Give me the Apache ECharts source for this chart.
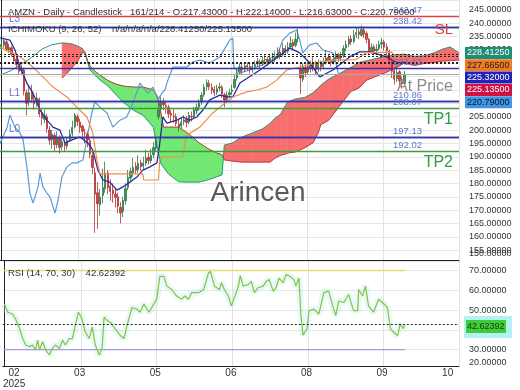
<!DOCTYPE html>
<html><head><meta charset="utf-8">
<script src="https://cdn.jsdelivr.net/npm/echarts@6/dist/echarts.min.js"></script>
<style>html,body{margin:0;padding:0;background:#fff}#c{width:520px;height:390px}</style>
</head><body><div id="c"></div>
<script>
const barCount = 181;
const xTickIdx = [4, 30, 60, 90, 120, 150, 176];
const xTickText = ['02\n2025', '03', '05', '06', '08', '09', '10'];
const xGridIdx = [31, 61, 91, 121, 151];

const candleOpen = [230.5,231.8,233.0,230.0,230.8,228.0,226.5,224.0,222.2,222.5,
214.0,210.5,214.5,211.0,210.0,211.5,206.5,204.0,205.0,200.0,
196.5,198.0,194.5,197.2,193.8,195.0,194.0,196.5,198.8,201.2,
205.0,203.0,201.5,199.0,198.5,196.0,190.5,184.0,176.5,172.0,
175.5,178.0,184.0,179.0,177.5,176.0,175.0,171.0,169.5,173.5,
178.5,182.0,184.0,186.5,185.2,187.8,186.5,187.6,189.8,188.5,
190.8,193.2,205.0,207.8,210.8,209.2,208.5,206.2,205.2,205.0,
202.2,201.5,203.2,204.0,203.0,205.2,205.0,207.2,208.6,210.5,
213.2,216.2,217.5,216.0,215.2,214.2,215.8,216.0,213.2,211.5,
213.2,214.5,216.0,219.5,221.8,223.5,222.8,224.2,223.8,222.5,
223.8,224.8,225.5,225.0,226.2,226.5,225.8,227.2,227.0,227.8,
229.2,228.2,230.6,229.5,231.2,232.8,231.8,234.2,223.0,219.0,
223.5,221.8,224.2,223.2,225.2,222.8,224.8,223.8,225.2,227.2,
226.2,225.5,226.8,228.2,227.0,227.8,230.8,232.2,234.2,233.2,
235.8,236.8,235.5,237.5,236.2,234.0,229.2,231.2,229.8,230.5,
232.2,233.0,231.2,229.5,225.5,222.2,219.2,221.8,218.2,217.43];
const candleClose = [232.0,233.5,230.2,231.0,228.4,226.0,224.5,222.0,223.2,214.5,
210.0,214.0,211.5,209.8,212.0,206.0,204.5,205.3,200.5,196.2,
198.4,194.6,197.0,193.5,195.6,194.2,196.0,198.5,201.0,205.6,
203.2,201.0,199.5,198.8,196.3,191.0,186.0,176.0,172.4,174.9,
178.5,183.9,178.5,177.0,176.1,174.8,171.5,168.9,173.6,178.0,
182.2,184.5,186.0,185.0,187.5,186.3,187.5,189.5,188.6,190.5,
193.5,196.0,207.5,210.5,209.5,208.7,206.0,205.5,204.9,202.5,
201.1,203.0,203.8,202.8,205.5,204.9,207.5,208.5,210.1,213.0,
216.0,217.7,216.2,215.0,214.0,215.5,216.2,213.5,211.3,213.0,
214.0,215.0,219.0,221.5,223.7,222.5,224.0,223.7,222.8,223.7,
224.5,225.7,224.8,226.0,226.4,225.5,227.0,227.2,227.5,229.0,
228.0,230.5,229.4,231.0,232.5,231.5,234.0,234.7,219.5,223.7,
221.5,224.0,223.0,225.0,222.6,224.5,223.7,225.0,227.0,226.0,
225.3,226.5,228.0,226.8,227.5,230.5,232.0,234.0,233.0,235.5,
236.5,235.8,237.7,236.0,234.0,229.0,231.0,229.5,230.3,232.0,
232.8,231.0,229.8,226.0,222.0,219.0,221.5,218.5,217.43,220.79];
const candleLow = [229.6,230.8,229.4,228.9,227.5,225.2,223.4,220.8,221.0,213.0,
205.5,209.0,210.2,207.6,208.8,204.8,201.8,202.5,199.0,194.5,
193.0,192.2,193.2,191.2,192.5,192.0,192.8,195.5,197.6,200.5,
201.5,199.0,197.5,195.0,193.5,189.5,183.5,161.5,163.0,168.0,
172.5,176.5,176.0,173.5,172.8,171.0,168.8,165.0,167.5,172.0,
177.5,180.5,182.5,183.5,184.0,184.8,185.2,186.5,187.0,187.5,
189.5,192.0,204.0,206.5,207.5,206.2,204.5,203.0,202.8,201.5,
199.5,200.5,201.8,201.0,202.2,203.2,204.2,205.8,207.2,209.5,
212.5,214.8,215.0,213.5,212.8,213.2,214.5,212.0,208.5,210.2,
212.0,213.2,215.5,218.5,220.8,221.0,221.8,222.2,221.2,221.5,
222.5,223.5,223.2,224.0,224.8,224.0,224.8,225.8,225.5,226.8,
226.5,227.5,228.0,228.6,230.2,229.8,231.0,232.8,213.5,218.0,
219.8,220.8,221.5,222.0,221.0,221.8,222.0,222.8,224.5,224.8,
223.8,224.5,225.8,225.5,225.8,227.0,229.5,231.0,231.8,232.5,
234.5,234.0,235.0,234.5,232.5,228.0,228.5,228.0,228.5,229.8,
230.5,229.8,228.0,224.5,219.5,217.0,218.0,216.0,215.5,216.63];
const candleHigh = [233.4,234.6,233.8,232.3,231.6,228.9,227.2,225.0,224.4,223.0,
215.2,216.5,217.0,213.5,214.0,212.2,208.0,207.6,206.0,201.5,
200.0,199.0,199.5,198.0,197.0,196.5,197.2,200.2,203.5,206.4,
206.0,204.2,202.0,200.5,199.5,196.8,192.0,186.0,180.5,178.0,
185.5,188.2,185.0,181.5,180.0,178.5,176.5,173.0,175.0,180.0,
185.0,186.0,189.5,188.0,190.5,189.0,190.0,192.5,191.5,193.0,
195.5,197.5,210.5,212.5,212.0,210.8,209.5,207.5,207.8,206.2,
203.8,204.8,205.6,205.2,206.8,207.0,208.6,209.8,211.5,214.2,
217.2,219.0,218.8,217.5,216.5,217.0,217.8,216.8,214.0,214.5,
215.5,217.0,221.0,223.2,225.0,224.8,225.5,225.4,224.8,225.2,
226.0,227.0,226.5,227.6,228.0,227.5,228.5,229.0,229.5,231.0,
230.5,232.5,231.8,233.0,235.0,234.0,236.5,238.0,224.5,225.0,
224.6,226.2,226.0,227.5,226.0,226.5,226.0,227.2,230.0,228.5,
227.8,228.2,229.5,229.0,229.2,231.8,233.5,235.2,235.5,237.5,
238.6,238.0,239.2,238.5,237.0,234.5,232.5,232.0,232.2,233.5,
234.5,233.8,232.5,230.0,226.0,223.0,224.0,222.5,220.0,222.14];

const tenkan = [[-0.5,234.5],[3.4,233.7],[5.4,230.0],[7.4,223.6],[10.1,217.6],[12.5,213.8],[15.3,207.5],[18,203.7],[20.4,201.1],[23.1,200.0],[25.1,195.1],[27.9,196.3],[31,197.4],[34.2,195.1],[36.1,192.5],[38.1,185.0],[40.1,181.3],[42.8,180.5],[45.6,177.5],[48,178.7],[50.7,180.5],[53.5,182.4],[55.8,185.0],[58.6,186.2],[61.4,187.7],[62.5,195.1],[63.7,204.9],[65.3,202.6],[69.2,203.7],[71.6,204.9],[74.4,203.7],[77.1,204.9],[79.5,207.5],[82.2,211.3],[86.2,213.1],[89.3,212.4],[91.3,212.4],[94.1,217.6],[102,222.5],[108.6,227.0],[113.8,230.7],[117.7,228.9],[121.6,225.2],[125.6,219.9],[130.7,222.5],[137.4,227.4],[141.3,229.3],[145.3,229.3],[152,227.4],[155.9,225.2],[159,225.32]];
const kijun = [[-0.5,231.1],[7.4,227.4],[12.5,223.6],[16.4,219.9],[20.4,216.1],[25.9,212.4],[29.8,208.6],[33.8,204.9],[36.1,198.9],[37.7,188.8],[38.9,183.6],[55.8,183.6],[56.2,181.3],[62,181.3],[62.5,188.8],[63.5,189.9],[71.5,189.9],[73,198.0],[78.3,201.1],[83.4,206.4],[86.2,208.6],[91.3,212.4],[96.8,214.3],[100.8,215.0],[104.7,216.1],[108.6,218.7],[112.6,222.5],[117.7,223.6],[122.8,225.0],[130.7,226.2],[140,226.4],[144,229.0],[154,229.2],[155,227.665],[159,227.665]];
const chikou = [[-0.5,195.0],[2.3,201.0],[3.4,205.6],[5.4,201.0],[7.4,198.9],[8.6,196.3],[10.1,186.2],[11.3,176.4],[12.5,172.7],[13.3,174.9],[14.5,178.7],[15.3,183.9],[16.4,178.7],[18,176.4],[19.2,174.9],[21.2,168.9],[22.4,173.8],[23.9,182.4],[25.9,186.2],[27.9,187.7],[29.8,187.7],[32.2,188.8],[34.2,198.9],[35.7,206.4],[36.9,210.5],[38.9,208.6],[41.7,206.4],[44,201.1],[46.8,203.7],[49.5,204.9],[51.9,210.1],[54.7,217.6],[55.8,216.1],[57.8,213.8],[59.8,216.1],[61.8,211.3],[63.3,213.8],[64.5,215.0],[65.7,218.7],[67.7,223.6],[71.2,223.6],[73.2,223.6],[75.5,225.5],[78.3,226.2],[82.2,225.1],[86.2,227.4],[90.1,233.7],[91.3,234.5],[91.7,223.6],[94.1,221.4],[98,222.5],[100.8,223.6],[104.7,225.1],[108.6,227.4],[111,233.7],[113.8,236.3],[116.5,237.5],[117.7,233.7],[118.9,228.9],[121.6,231.9],[124.4,232.6],[126.8,230.0],[130.7,228.9],[131.9,225.5],[133,220.79]];

const cloudX = [-0.5,4,8,12,16,20,24,26,28,30,32,33,34,35,37,39,42,45,48,52,56,60,62,63,64,66,70,74,78,82,85,87,88,91,95,99,103,106,108,110,112,113,116,120,123,125,126,129,132,135,138,141,144,148,152,156,159,163,167,171,174,177,180.5];
const spanA = [220.6,222.3,224.8,227.2,230.3,232.0,232.6,232.5,232.2,231.5,230.5,228.9,225.5,222.5,220.5,218.7,216.6,213.5,210.5,207.5,205.5,201.0,191.0,187.5,186.0,183.5,180.6,180.5,180.5,181.5,182.5,183.2,194.4,195.1,197.4,198.9,200.4,202.5,204.5,205.8,209.0,210.6,211.6,212.3,214.0,215.8,216.8,219.0,220.5,222.0,223.5,225.3,225.9,226.8,227.8,228.2,228.41,227.6,227.8,229.0,230.3,231.1,228.9];
const spanB = [null,null,null,null,null,null,219.5,221.3,223.5,225.7,229.0,229.2,226.0,224.0,222.0,220.6,218.6,217.3,216.5,216.1,216.1,215.0,212.0,206.0,201.1,201.1,201.1,198.5,195.2,192.8,191.4,190.8,188.8,188.4,188.0,188.0,188.0,188.0,189.5,190.5,191.0,191.4,191.8,193.5,195.3,199.0,202.0,203.6,207.2,211.0,214.6,215.7,218.7,220.2,221.7,223.5,225.135,224.2,225.0,225.4,225.8,226.0,226.2];

const rsi = [[0.2,53.0],[1.5,48.9],[3.4,48.0],[4.6,45.5],[6.2,40.6],[7.4,35.6],[8.6,32.3],[10.2,31.5],[11.3,32.3],[12.5,29.8],[13.3,34.8],[14.1,29.8],[15.3,34.0],[16.5,29.8],[18.0,27.3],[19.2,30.6],[20.4,32.3],[22.0,30.6],[23.2,34.8],[24.3,32.3],[25.9,35.6],[27.1,35.6],[28.3,42.2],[29.5,48.9],[30.3,47.2],[31.1,44.7],[32.2,38.9],[33.8,35.6],[35.0,41.4],[36.2,32.3],[37.8,27.3],[38.9,30.6],[39.7,46.4],[40.9,44.7],[42.1,43.9],[44.1,40.6],[46.0,37.3],[47.6,35.6],[48.8,42.2],[50.8,51.3],[52.7,50.5],[53.9,48.9],[55.5,53.0],[57.5,48.9],[59.4,53.0],[60.6,55.5],[61.8,67.0],[63.4,67.0],[64.6,62.1],[66.5,60.4],[68.5,57.1],[70.5,55.5],[71.7,57.1],[73.2,55.5],[74.4,58.8],[77.2,58.8],[79.2,60.4],[81.1,68.7],[81.9,69.5],[83.5,62.1],[85.5,60.4],[86.3,63.8],[87.4,60.4],[89.0,57.1],[90.2,52.1],[91.4,56.3],[93.0,62.1],[93.7,67.4],[94.9,62.1],[96.9,62.9],[98.1,64.5],[99.3,58.8],[100.8,61.3],[102.8,62.1],[104.0,64.5],[105.2,65.4],[106.8,59.6],[107.9,61.3],[109.1,66.2],[110.7,63.8],[111.9,67.9],[113.5,67.0],[115.0,65.4],[115.8,62.1],[117.0,66.2],[117.8,47.2],[118.6,37.3],[119.0,36.4],[120.2,40.6],[121.0,49.7],[122.9,50.5],[124.9,48.0],[126.9,58.8],[128.8,59.6],[130.4,52.1],[131.6,47.2],[132.8,54.6],[134.8,53.8],[136.7,57.9],[138.7,49.7],[140.3,49.7],[140.7,60.4],[142.2,57.1],[143.4,62.1],[144.6,52.1],[146.6,48.9],[148.6,55.5],[150.1,53.8],[152.1,51.3],[153.3,40.6],[154.5,38.9],[156.1,37.0],[157.2,43.0],[158.4,40.6],[159.0,42.62392]];
const rsiUpper = 70, rsiLower = 30, rsiLast = 42.62392;
const rsiSpan = [0, 159];

const levelValues = [242.47, 238.42, 223.10, 210.86, 208.07, 197.13, 192.02];
const levelText   = ['242.47', '238.42', '223.10', '210.86', '208.07', '197.13', '192.02'];
const levelTags   = ['', 'L3', '', 'L1', '', 'L0', ''];
const levelKinds  = ['sl', 'lvl', 'lvl', 'lvl', 'tp', 'lvl', 'tp'];
const lastValues  = [228.4125, 227.665, 225.32, 225.135, 220.79];
const lastText    = ['228.41250', '227.66500', '225.32000', '225.13500', '220.79000'];

const FONT = '"Liberation Sans", Arial, sans-serif';
const chart = echarts.init(document.getElementById('c'), null, {renderer: 'canvas', width: 520, height: 390});

const cats = Array.from({length: barCount}, (_, i) => String(i));
const candleData = candleOpen.map((o, i) => [o, candleClose[i], candleLow[i], candleHigh[i]]);
const cloudPts = [];
cloudX.forEach((x, k) => { if (spanB[k] != null) cloudPts.push([x, spanA[k], spanB[k]]); });
const spanALine = cloudX.map((x, k) => [x, spanA[k]]);
const spanBLine = cloudPts.map(p => [p[0], p[2]]);
const RED = '#f86d6d', GREEN = '#72e872';

function cloudItem(params, api) {
  const k = params.dataIndex;
  if (k >= cloudPts.length - 1) return null;
  const [x0, a0, b0] = cloudPts[k], [x1, a1, b1] = cloudPts[k + 1];
  const d0 = a0 - b0, d1 = a1 - b1;
  const poly = (pts, col) => ({type: 'polygon', shape: {points: pts.map(p => api.coord(p))}, style: {fill: col, stroke: col, lineWidth: 0.6}});
  const children = [];
  if (d0 * d1 >= 0) {
    children.push(poly([[x0, a0], [x1, a1], [x1, b1], [x0, b0]], (d0 + d1) > 0 ? RED : GREEN));
  } else {
    const t = d0 / (d0 - d1), xc = x0 + t * (x1 - x0), vc = a0 + t * (a1 - a0);
    children.push(poly([[x0, a0], [xc, vc], [x0, b0]], d0 > 0 ? RED : GREEN));
    children.push(poly([[xc, vc], [x1, a1], [x1, b1]], d1 > 0 ? RED : GREEN));
  }
  return {type: 'group', children};
}

const kindColor = {sl: '#d94545', lvl: '#3535a5', tp: '#3d9a3d'};
const markData = [];
levelValues.forEach((v, k) => {
  const ls = {color: kindColor[levelKinds[k]], width: 1.4, type: 'solid'};
  markData.push({yAxis: v, lineStyle: ls, label: {show: true, position: 'insideEndTop', formatter: levelText[k], color: '#5b78d0', fontSize: 9.5, fontFamily: FONT, distance: 1, padding: [0, 36, 0, 0]}});
  if (levelTags[k]) markData.push({yAxis: v, lineStyle: ls, label: {show: true, position: 'insideStartTop', formatter: levelTags[k], color: '#5b78d0', fontSize: 10, fontFamily: FONT, distance: 3, padding: [0, 0, 0, 6]}});
});
lastValues.slice(0, 4).forEach(v => markData.push({yAxis: v, lineStyle: {color: '#222', width: 1, type: [2, 2]}, label: {show: false}}));
markData.push({yAxis: lastValues[4], lineStyle: {color: '#a8a8a8', width: 1.2, type: 'solid'}, label: {show: false}});

const boxColors = ['#1f8c76', '#f07a22', '#2222b8', '#cf1242', '#3f96e6'];
const boxText = ['#fff', '#222', '#fff', '#fff', '#111'];
const graphics = [];
lastText.forEach((t, k) => {
  const cy = 53 + k * 12.3;
  graphics.push({type: 'rect', z: 100, shape: {x: 465, y: cy - 6, width: 47, height: 12}, style: {fill: boxColors[k]}});
  graphics.push({type: 'text', z: 101, x: 467, y: cy, style: {text: t, fill: boxText[k], font: '9px ' + FONT, verticalAlign: 'middle'}});
});
graphics.push({type: 'rect', z: 100, shape: {x: 464, y: 316, width: 48, height: 22}, style: {fill: '#b2f2f2'}});
graphics.push({type: 'rect', z: 101, shape: {x: 466, y: 320, width: 40, height: 13}, style: {fill: '#3fcc38'}});
graphics.push({type: 'text', z: 102, x: 467, y: 326.5, style: {text: rsiLast.toFixed(5), fill: '#163a16', font: '9px ' + FONT, verticalAlign: 'middle'}});
graphics.push({type: 'text', z: 50, x: 469, y: 254, style: {text: '150.00000', fill: '#333', font: '9px ' + FONT, verticalAlign: 'middle'}});
graphics.push({type: 'text', z: 50, x: 469, y: 363, style: {text: '20.00000', fill: '#333', font: '9px ' + FONT, verticalAlign: 'middle'}});
graphics.push({type: 'text', z: 50, x: 8, y: 12, style: {text: 'AMZN - Daily - Candlestick   161/214 - O:217.43000 - H:222.14000 - L:216.63000 - C:220.79000', fill: '#333', font: '9.5px ' + FONT, verticalAlign: 'middle'}});
graphics.push({type: 'text', z: 50, x: 8, y: 29, style: {text: 'ICHIMOKU (9, 26, 52)    n/a/n/a/n/a/228.41250/225.13500', fill: '#333', font: '9.5px ' + FONT, verticalAlign: 'middle'}});
graphics.push({type: 'text', z: 50, x: 8, y: 273, style: {text: 'RSI (14, 70, 30)    42.62392', fill: '#333', font: '9.5px ' + FONT, verticalAlign: 'middle'}});
graphics.push({type: 'text', z: 50, x: 453, y: 30, style: {text: 'SL', fill: '#e03c3c', font: '15px ' + FONT, align: 'right', verticalAlign: 'middle'}});
graphics.push({type: 'text', z: 50, x: 453, y: 87, style: {text: 'At Price', fill: '#8c8c8c', font: '16px ' + FONT, align: 'right', verticalAlign: 'middle'}});
graphics.push({type: 'text', z: 50, x: 453, y: 120, style: {text: 'TP1', fill: '#2e9e3e', font: '16px ' + FONT, align: 'right', verticalAlign: 'middle'}});
graphics.push({type: 'text', z: 50, x: 453, y: 163, style: {text: 'TP2', fill: '#2e9e3e', font: '16px ' + FONT, align: 'right', verticalAlign: 'middle'}});
graphics.push({type: 'text', z: 50, x: 258, y: 193, style: {text: 'Arincen', fill: '#5a5a5a', font: '28px ' + FONT, align: 'center', verticalAlign: 'middle'}});

const splitCat = {show: true, interval: (i) => xGridIdx.indexOf(i) >= 0, lineStyle: {color: '#e2e2e2', width: 1}};
const lineS = (data, color, width, extra) => Object.assign({type: 'line', xAxisIndex: 1, yAxisIndex: 0, data, symbol: 'none', showSymbol: false, silent: true, lineStyle: {color, width}, z: 3}, extra || {});

chart.setOption({
  animation: false,
  textStyle: {fontFamily: FONT},
  grid: [
    {left: 0, top: 0, width: 459, height: 260, containLabel: false},
    {left: 0, top: 261, width: 459, height: 107, containLabel: false}
  ],
  xAxis: [
    {type: 'category', gridIndex: 0, data: cats, boundaryGap: true, axisLabel: {show: false}, axisTick: {show: false}, axisLine: {show: true, lineStyle: {color: '#222', width: 1}}, splitLine: splitCat},
    {type: 'value', gridIndex: 0, min: -0.5, max: 180.5, show: false, splitLine: {show: false}},
    {type: 'category', gridIndex: 1, data: cats, boundaryGap: true, axisTick: {show: false}, axisLine: {show: true, lineStyle: {color: '#222', width: 1}}, splitLine: splitCat,
      axisLabel: {show: true, interval: (i) => xTickIdx.indexOf(i) >= 0, formatter: (v, i) => xTickText[xTickIdx.indexOf(Number(v))] || '', color: '#333', fontSize: 10, lineHeight: 11, margin: 2}},
    {type: 'value', gridIndex: 1, min: -0.5, max: 180.5, show: false, splitLine: {show: false}}
  ],
  yAxis: [
    {type: 'value', gridIndex: 0, position: 'right', min: 151.33, max: 248.71, splitNumber: 20, axisLine: {show: true, lineStyle: {color: '#222'}}, axisTick: {show: false},
      axisLabel: {formatter: v => v.toFixed(5), fontSize: 9, color: '#333', margin: 10, showMinLabel: false, showMaxLabel: false}, splitLine: {lineStyle: {color: '#e6e6e6'}}},
    {type: 'value', gridIndex: 1, position: 'right', min: 21.71, max: 74.81, splitNumber: 5, axisLine: {show: true, lineStyle: {color: '#222'}}, axisTick: {show: false},
      axisLabel: {formatter: v => v.toFixed(5), fontSize: 9, color: '#333', margin: 10, showMinLabel: false, showMaxLabel: false}, splitLine: {lineStyle: {color: '#e6e6e6'}}}
  ],
  graphic: graphics,
  series: [
    {type: 'custom', xAxisIndex: 1, yAxisIndex: 0, data: cloudPts, encode: {x: 0, y: [1, 2]}, renderItem: cloudItem, silent: true, z: 1, clip: true},
    lineS(spanALine, '#2c9a78', 1, {z: 2}),
    lineS(spanBLine, '#b8403a', 1, {z: 2}),
    lineS(chikou, '#5b9ad8', 1.2, {z: 2}),
    {type: 'candlestick', xAxisIndex: 0, yAxisIndex: 0, data: candleData, barWidth: '72%', silent: true, z: 3,
      itemStyle: {color: '#3a9e5a', color0: '#de4040', borderColor: '#2f7448', borderColor0: '#b03434', borderWidth: 0.8}},
    lineS(tenkan, '#2a2aa2', 1.3, {z: 4}),
    lineS(kijun, '#f08c48', 1.2, {z: 4, markLine: {symbol: ['none', 'none'], silent: true, animation: false, label: {show: false}, data: markData}}),
    {type: 'line', xAxisIndex: 3, yAxisIndex: 1, data: rsi, symbol: 'none', silent: true, lineStyle: {color: 'rgba(175,240,240,0.3)', width: 7}, z: 1},
    {type: 'line', xAxisIndex: 3, yAxisIndex: 1, data: rsiSpan.map(x => [x, rsiUpper]), symbol: 'none', silent: true, lineStyle: {color: '#e6dc78', width: 1.3}, z: 2},
    {type: 'line', xAxisIndex: 3, yAxisIndex: 1, data: rsiSpan.map(x => [x, rsiLower]), symbol: 'none', silent: true, lineStyle: {color: '#a898e6', width: 1.3}, z: 2},
    {type: 'line', xAxisIndex: 3, yAxisIndex: 1, data: rsi, symbol: 'none', silent: true, lineStyle: {color: '#8cc03c', width: 1.2}, z: 3,
      markLine: {symbol: ['none', 'none'], silent: true, animation: false, label: {show: false}, data: [{yAxis: rsiLast, lineStyle: {color: '#222', width: 1, type: [2, 2]}}]}}
  ]
});
</script></body></html>
